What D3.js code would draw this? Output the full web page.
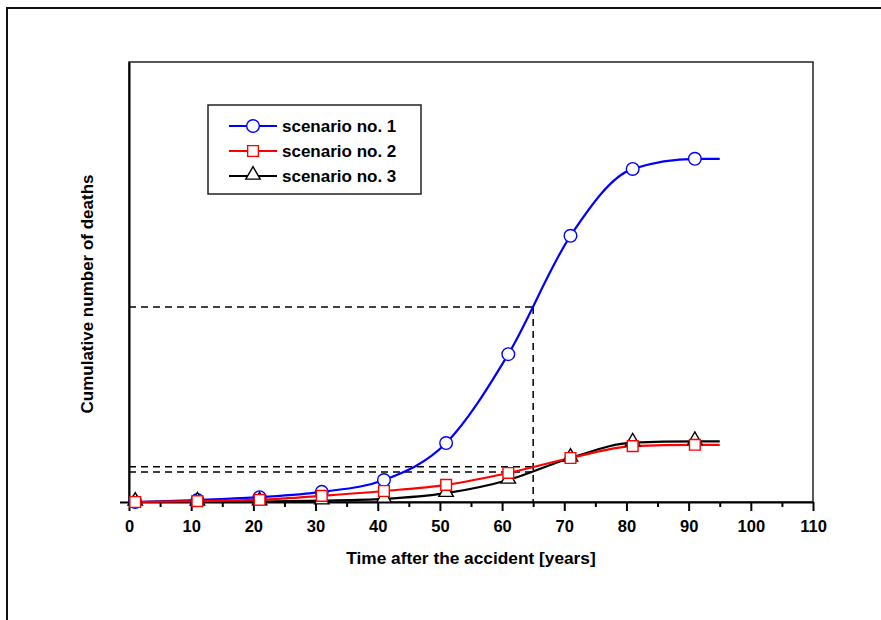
<!DOCTYPE html>
<html lang="en">
<head>
    <meta charset="UTF-8">
    <title>Cumulative number of deaths</title>
    <style>
        body { margin: 0; background: #fff; }
        svg text { font-family: "Liberation Sans", Arial, sans-serif; font-weight: bold; fill: #000; }
        .curve { fill: none; stroke-width: 2.2px; }
        .guide { stroke: #000; stroke-width: 1.5px; stroke-dasharray: 7 5; fill: none; }
        .axis path, .axis line { stroke: #000; stroke-width: 2px; }
    </style>
</head>
<body>
    <svg width="881" height="620"></svg>

    <script src="https://d3js.org/d3.v7.min.js"></script>
    <script>
        // years at which the curves are given (last one is the end of the curve, no marker)
        const years = [1, 11, 21, 31, 41, 51, 61, 71, 81, 91, 95];
        const scenario1 = [0, 4.5, 11, 23, 50, 134, 336, 605, 757, 780, 780];
        const scenario2 = [0, 2, 5, 14, 25, 39, 66, 100, 127, 130, 130];
        const scenario3 = [0, 0.5, 1, 3, 7, 20, 50, 100, 135, 138, 138];
        const seriesNames = ["scenario no. 1", "scenario no. 2", "scenario no. 3"];
        const seriesColors = ["#0000ff", "#ff0000", "#000000"];
        const seriesSymbols = [d3.symbolCircle, d3.symbolSquare, d3.symbolTriangle];

        // dashed read-off lines at 65 years
        const guideYear = 65;
        const guideLevels = [443, 80, 68];

        const xTicks = d3.range(0, 111, 5);

        const svg = d3.select("svg");

        // outer frame (runs off the right and bottom edge)
        svg.append("rect")
            .attr("x", 7).attr("y", 8)
            .attr("width", 900).attr("height", 700)
            .attr("fill", "none")
            .attr("stroke", "#111")
            .attr("stroke-width", 2);

        const x = d3.scaleLinear().domain([0, 110]).range([129, 813]);
        const y = d3.scaleLinear().domain([0, 1000]).range([502, 62]);

        // plot box
        svg.append("rect")
            .attr("x", x(0)).attr("y", y(1000))
            .attr("width", x(110) - x(0)).attr("height", y(0) - y(1000))
            .attr("fill", "none")
            .attr("stroke", "#222")
            .attr("stroke-width", 1.5);

        // guides
        const guides = svg.append("g");
        guideLevels.forEach(v => {
            guides.append("line").attr("class", "guide")
                .attr("x1", x(0)).attr("x2", x(guideYear))
                .attr("y1", y(v)).attr("y2", y(v));
        });
        guides.append("line").attr("class", "guide")
            .attr("x1", x(guideYear)).attr("x2", x(guideYear))
            .attr("y1", y(d3.max(guideLevels))).attr("y2", y(0));

        // axes
        const xAxis = svg.append("g")
            .attr("class", "axis")
            .attr("transform", `translate(0,${y(0)})`)
            .call(d3.axisBottom(x).tickValues(xTicks).tickSizeOuter(0)
                .tickFormat(d => d % 10 === 0 ? d : ""));
        xAxis.selectAll(".tick line").attr("y2", d => d % 10 === 0 ? 9 : 5);
        xAxis.selectAll(".tick text")
            .attr("y", 18)
            .attr("dy", "0.71em")
            .style("font-size", "16.5px")
            .style("font-family", "'Liberation Sans', Arial, sans-serif");

        svg.append("g")
            .attr("class", "axis")
            .attr("transform", `translate(${x(0)},0)`)
            .call(d3.axisLeft(y).tickValues([0]).tickSize(9).tickSizeOuter(0).tickFormat(""));

        // curves
        const line = d3.line()
            .x((d, i) => x(years[i]))
            .y(d => y(d))
            .curve(d3.curveMonotoneX);

        const allSeries = [scenario1, scenario2, scenario3];
        const symbolSizes = [125, 115, 90];
        // draw scenario 3 before scenario 2 so red sits over black like in the original
        const order = [0, 2, 1];
        order.forEach(k => {
            svg.append("path")
                .datum(allSeries[k])
                .attr("class", "curve")
                .attr("stroke", seriesColors[k])
                .attr("d", line);
        });
        order.forEach(k => {
            const vals = allSeries[k].slice(0, -1);
            svg.append("g").selectAll("path")
                .data(vals)
                .enter().append("path")
                .attr("transform", (d, i) => `translate(${x(years[i])},${y(d) + (k === 2 ? -1 : 0)})`)
                .attr("d", d3.symbol().type(seriesSymbols[k]).size(symbolSizes[k]))
                .attr("fill", "#fff")
                .attr("stroke", seriesColors[k])
                .attr("stroke-width", 1.4);
        });

        // axis titles
        svg.append("text")
            .attr("x", (x(0) + x(110)) / 2)
            .attr("y", 564)
            .attr("text-anchor", "middle")
            .style("font-size", "17.3px")
            .text("Time after the accident [years]");

        svg.append("text")
            .attr("transform", "translate(93,294) rotate(-90)")
            .attr("text-anchor", "middle")
            .style("font-size", "17px")
            .text("Cumulative number of deaths");

        // legend
        const legend = svg.append("g");
        legend.append("rect")
            .attr("x", 208).attr("y", 105)
            .attr("width", 213).attr("height", 89)
            .attr("fill", "#fff")
            .attr("stroke", "#222")
            .attr("stroke-width", 1.5);

        seriesNames.forEach((name, k) => {
            const ly = 126 + k * 25;
            legend.append("line")
                .attr("x1", 229).attr("x2", 277)
                .attr("y1", ly).attr("y2", ly)
                .attr("stroke", seriesColors[k])
                .attr("stroke-width", 2.2);
            legend.append("path")
                .attr("transform", `translate(253,${ly + (k === 2 ? -1 : 0)})`)
                .attr("d", d3.symbol().type(seriesSymbols[k]).size(symbolSizes[k]))
                .attr("fill", "#fff")
                .attr("stroke", seriesColors[k])
                .attr("stroke-width", 1.4);
            legend.append("text")
                .attr("x", 282)
                .attr("y", ly + 6)
                .style("font-size", "17px")
                .text(name);
        });
    </script>
</body>
</html>
